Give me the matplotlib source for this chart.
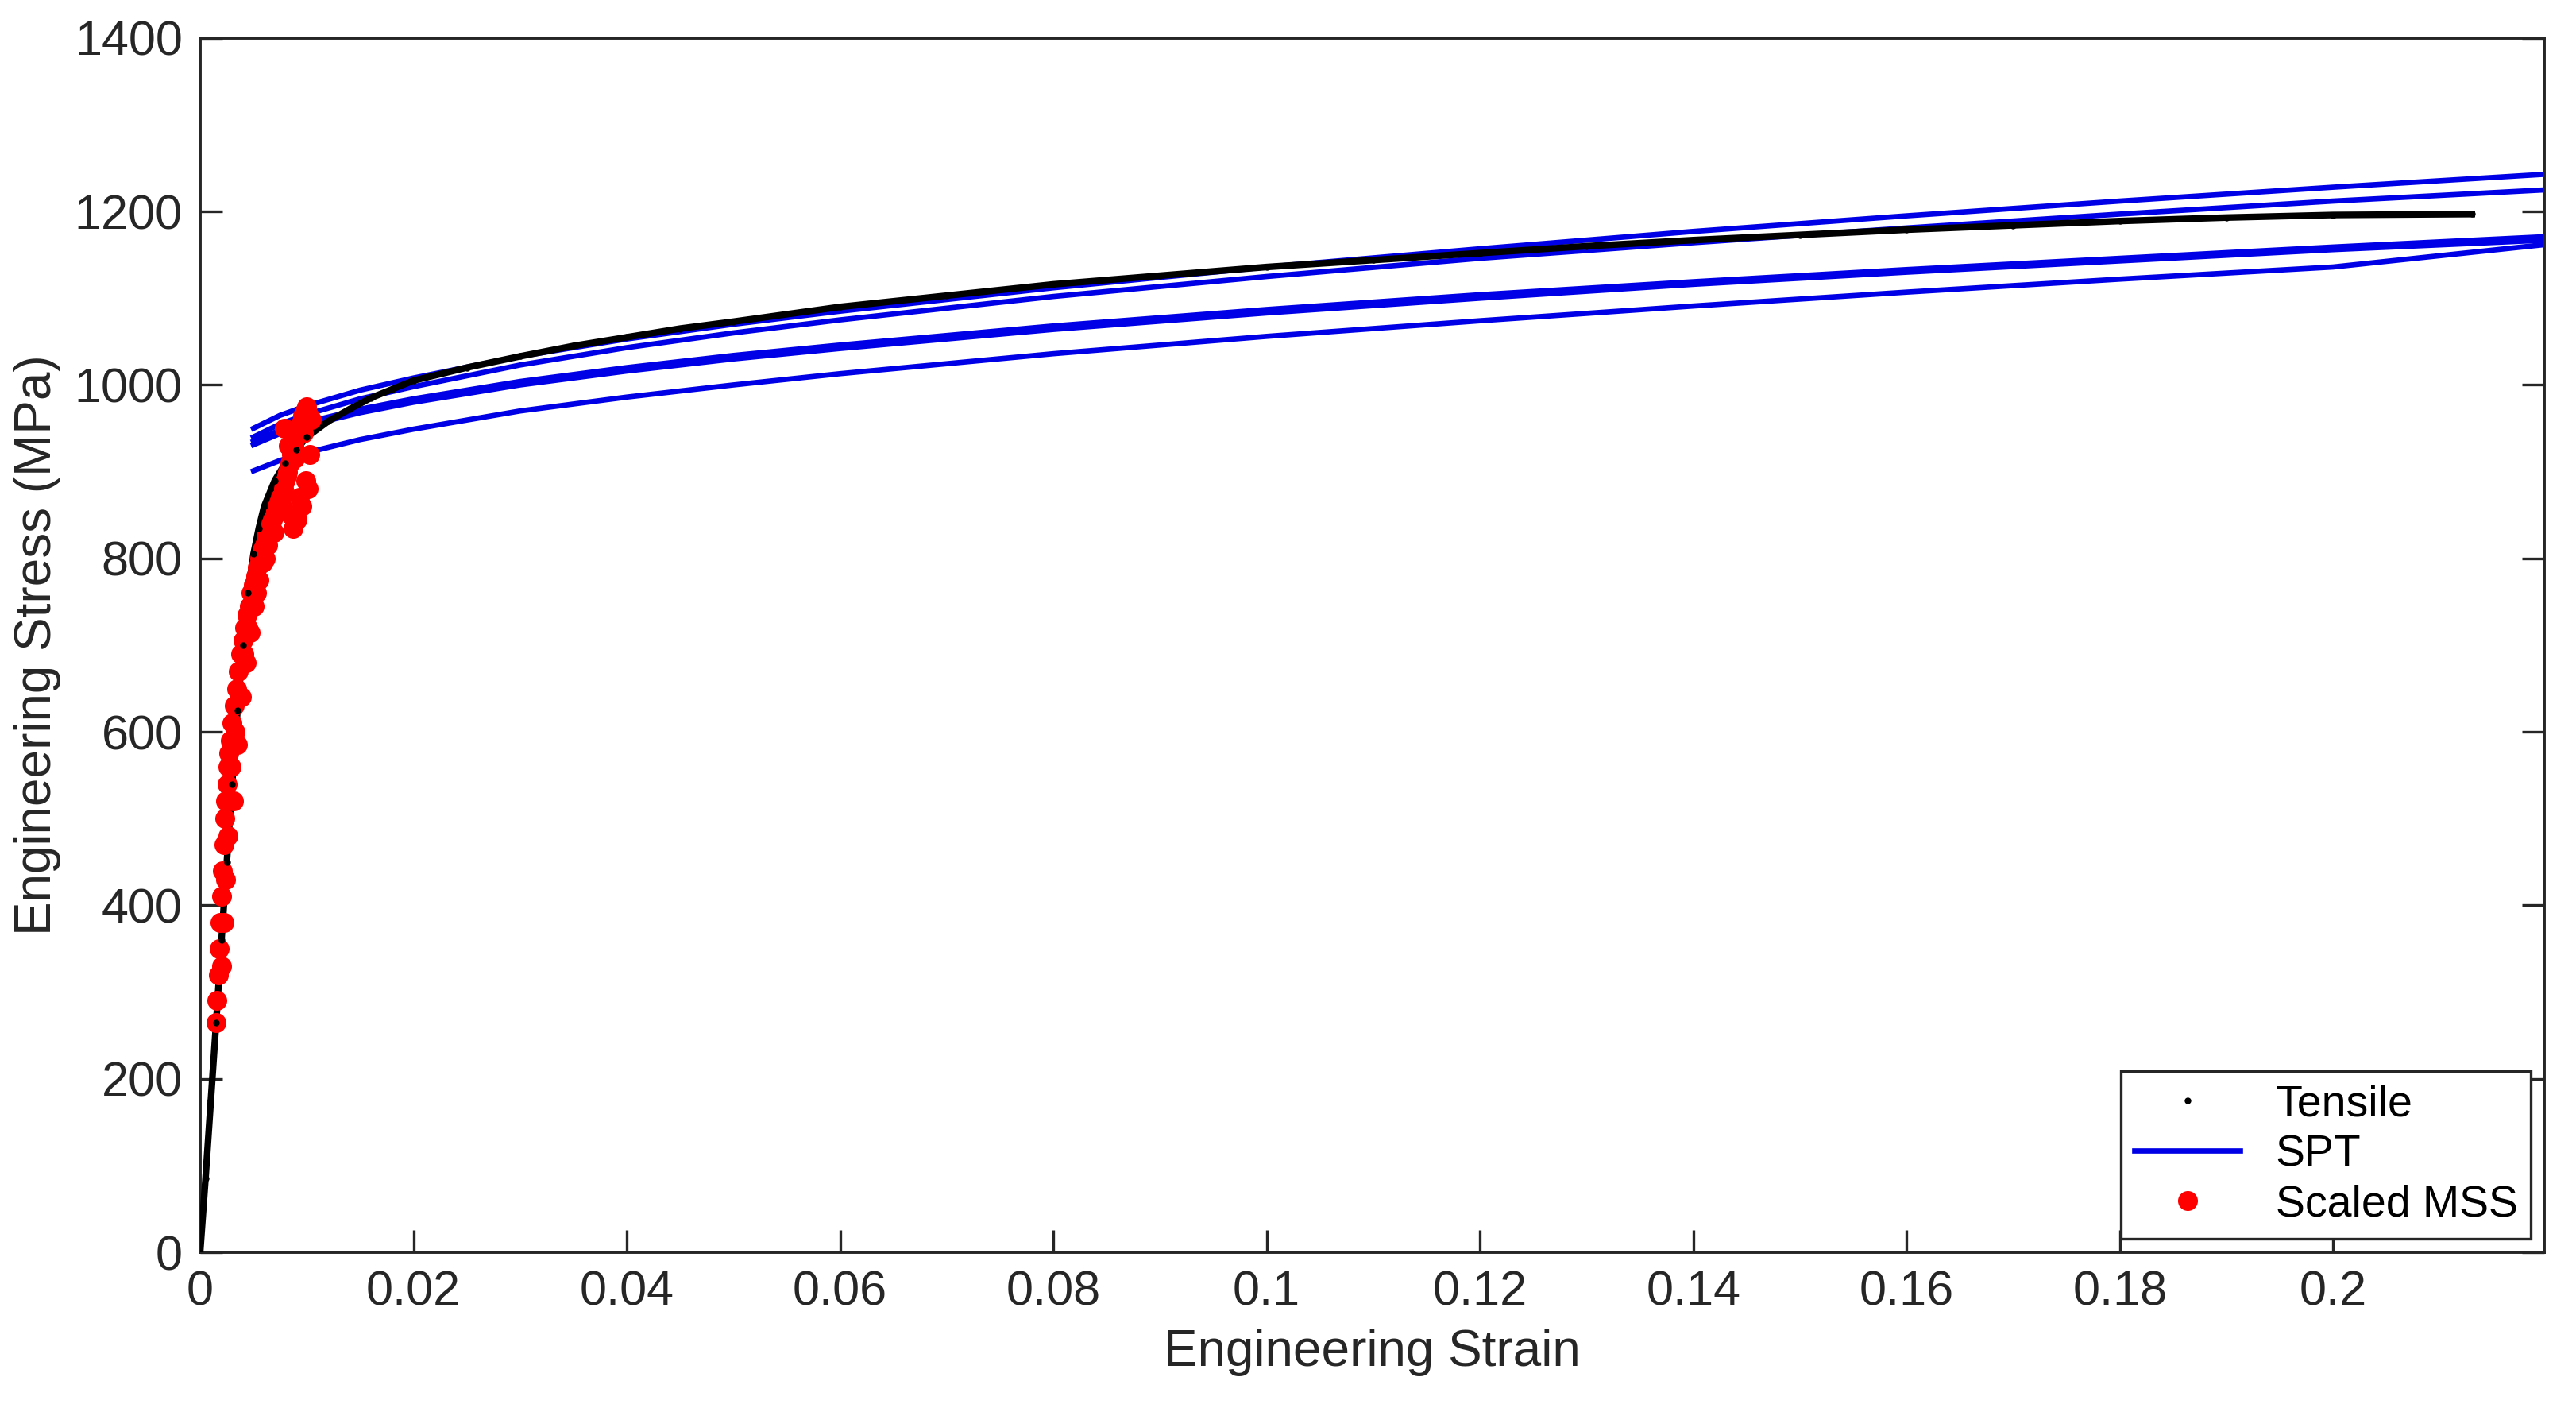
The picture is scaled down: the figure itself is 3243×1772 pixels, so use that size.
import numpy as np
import matplotlib.pyplot as plt

plt.rcParams['font.family'] = ['Liberation Sans', 'DejaVu Sans']

# Tensile test (engineering strain, stress in MPa)
tensile_strain = [0, 0.0005, 0.001, 0.0015, 0.002, 0.0025, 0.003, 0.0035, 0.004, 0.0045,
                  0.005, 0.0055, 0.006, 0.007, 0.008, 0.009, 0.010, 0.012, 0.014, 0.016,
                  0.018, 0.020, 0.025, 0.030, 0.035, 0.040, 0.045, 0.050, 0.060, 0.070,
                  0.080, 0.090, 0.100, 0.110, 0.120, 0.130, 0.140, 0.150, 0.160, 0.170,
                  0.180, 0.190, 0.200, 0.213]
tensile_stress = [0, 85, 175, 265, 360, 450, 540, 625, 700, 760,
                  805, 835, 860, 890, 910, 925, 940, 958, 972, 985,
                  995, 1005, 1020, 1033, 1045, 1055, 1065, 1073, 1090, 1103,
                  1116, 1126, 1136, 1144, 1152, 1160, 1167, 1173, 1179, 1184,
                  1189, 1193, 1196, 1197]

# SPT-derived curves
spt_strain = [0.005, 0.0075, 0.01, 0.015, 0.02, 0.03, 0.04, 0.05, 0.06, 0.08,
              0.10, 0.12, 0.14, 0.16, 0.18, 0.20, 0.22]
spt_a = [950, 965, 976, 994, 1008, 1033, 1053, 1070, 1085, 1112,
         1136, 1157, 1177, 1195, 1212, 1228, 1243]
spt_b = [940, 955, 966, 984, 998, 1023, 1043, 1060, 1075, 1102,
         1125, 1146, 1164, 1181, 1197, 1212, 1225]
spt_c = [935, 948, 957, 972, 984, 1004, 1020, 1034, 1046, 1068,
         1087, 1104, 1119, 1133, 1146, 1159, 1171]
spt_d = [931, 944, 953, 968, 980, 1000, 1016, 1030, 1042, 1064,
         1083, 1100, 1116, 1130, 1143, 1156, 1167]
spt_e = [901, 913, 922, 937, 949, 970, 986, 1000, 1013, 1036,
         1056, 1074, 1091, 1107, 1122, 1136, 1164 - 2]

# Scaled MSS points
mss_strain = [0.0015, 0.0016, 0.0017, 0.0018, 0.0019, 0.0020, 0.0021, 0.0022, 0.0023, 0.0024,
              0.0025, 0.0026, 0.0027, 0.0028, 0.0030, 0.0032, 0.0034, 0.0036, 0.0038, 0.0040,
              0.0042, 0.0044, 0.0046, 0.0048, 0.0050, 0.0052, 0.0054, 0.0056, 0.0058, 0.0060,
              0.0062, 0.0064, 0.0066, 0.0068, 0.0070, 0.0072, 0.0074, 0.0076, 0.0078, 0.0080,
              0.0082, 0.0084, 0.0086, 0.0088, 0.0090, 0.0092, 0.0094, 0.0096, 0.0098, 0.0100,
              0.0102, 0.0104, 0.0029, 0.0033, 0.0037, 0.0041, 0.0045, 0.0053, 0.0061, 0.0069,
              0.0077, 0.0085, 0.0093, 0.0101, 0.0087, 0.0091, 0.0095, 0.0099, 0.0083, 0.0079,
              0.0020, 0.0022, 0.0024, 0.0026, 0.0031, 0.0035, 0.0039, 0.0043, 0.0047, 0.0051,
              0.0055, 0.0059, 0.0063, 0.0067, 0.0071, 0.0075, 0.0081, 0.0089, 0.0097, 0.0103]
mss_stress = [265, 290, 320, 350, 380, 410, 440, 470, 500, 520,
              540, 560, 575, 590, 610, 630, 650, 670, 690, 705,
              720, 735, 745, 760, 770, 780, 790, 800, 810, 815,
              825, 830, 840, 845, 850, 860, 865, 870, 880, 890,
              900, 910, 920, 930, 940, 950, 955, 965, 970, 975,
              965, 960, 560, 600, 640, 690, 720, 760, 800, 830,
              860, 850, 870, 880, 835, 845, 860, 890, 930, 950,
              330, 380, 430, 480, 520, 585, 640, 680, 715, 745,
              775, 795, 815, 835, 855, 870, 895, 915, 945, 920]

fig, ax = plt.subplots(figsize=(16.215, 8.86), dpi=200)
fig.subplots_adjust(left=0.0777, right=0.9877, bottom=0.1106, top=0.973)

ax.plot(tensile_strain, tensile_stress, '-', color='black', linewidth=3, zorder=3)
for i, s in enumerate([spt_a, spt_b, spt_c, spt_d, spt_e]):
    ax.plot(spt_strain, s, '-', color='#0000e6', linewidth=2.4, zorder=2,
            label='SPT' if i == 0 else None)
ax.plot(mss_strain, mss_stress, 'o', color='#ff0000', markersize=8, zorder=4,
        label='Scaled MSS')
ax.plot(tensile_strain[1:], tensile_stress[1:], '.', color='black', markersize=4, zorder=5,
        label='Tensile')

h, l = ax.get_legend_handles_labels()
order = [2, 0, 1]
leg = ax.legend([h[i] for i in order], [l[i] for i in order], loc='lower right',
                fontsize=20, fancybox=False, edgecolor='#262626', framealpha=1,
                handlelength=2.4, borderaxespad=0.3, labelspacing=0.2,
                borderpad=0.3)
leg.get_frame().set_linewidth(1.2)

ax.set_xlim(0, 0.2198)
ax.set_ylim(0, 1400)
ax.set_xticks([0, 0.02, 0.04, 0.06, 0.08, 0.1, 0.12, 0.14, 0.16, 0.18, 0.2])
ax.set_xticklabels(['0', '0.02', '0.04', '0.06', '0.08', '0.1', '0.12', '0.14',
                    '0.16', '0.18', '0.2'])
ax.set_yticks(range(0, 1401, 200))
ax.tick_params(direction='in', top=False, right=True, length=10, width=1.2,
               labelsize=22, colors='#262626', pad=8)
for sp in ax.spines.values():
    sp.set_linewidth(1.4)
    sp.set_color('#262626')
ax.set_xlabel('Engineering Strain', fontsize=23, color='#262626', labelpad=6)
ax.set_ylabel('Engineering Stress (MPa)', fontsize=23, color='#262626', labelpad=6)

fig.savefig('out.png', dpi=200, facecolor='white')
